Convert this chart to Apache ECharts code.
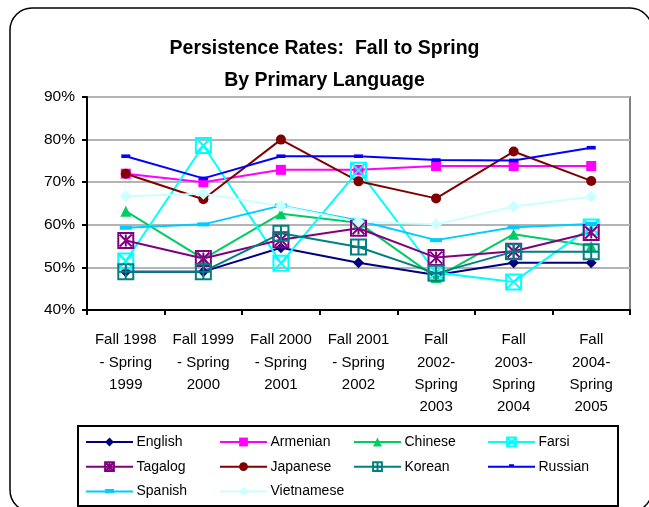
<!DOCTYPE html>
<html>
<head>
<meta charset="utf-8">
<title>Persistence Rates: Fall to Spring</title>
<script src="https://cdn.jsdelivr.net/npm/echarts@6/dist/echarts.min.js"></script>
</head>
<body style="margin:0;background:#fff;">
<div id="chart" style="width:649px;height:507px;"></div>
<script type="text/javascript">
// terms (x axis)
var terms = [
    'Fall 1998\n- Spring\n1999',
    'Fall 1999\n- Spring\n2000',
    'Fall 2000\n- Spring\n2001',
    'Fall 2001\n- Spring\n2002',
    'Fall\n2002-\nSpring\n2003',
    'Fall\n2003-\nSpring\n2004',
    'Fall\n2004-\nSpring\n2005'
];

// persistence rate in percent
var english    = [49, 49, 54.6, 51.1, 48.2, 51.1, 51.1];
var armenian   = [72, 70, 72.9, 72.9, 73.8, 73.8, 73.8];
var chinese    = [63.2, 52, 62.6, 60.5, 47.6, 57.8, 55];
var farsi      = [51.5, 78.6, 51, 72.8, 48.8, 46.6, 59.5];
var tagalog    = [56.3, 52.1, 56.5, 59.2, 52.3, 53.8, 58.2];
var japanese   = [72, 66, 80, 70.2, 66.2, 77.2, 70.3];
var korean     = [49, 49, 58, 54.8, 48.6, 53.7, 53.7];
var russian    = [76.1, 70.9, 76.1, 76.1, 75.2, 75.1, 78.1];
var spanish    = [59.3, 60.1, 64.5, 61, 56.4, 59.4, 60.2];
var vietnamese = [66.7, 67.3, 64.4, 60.7, 60.1, 64.3, 66.6];

var boxX = 'path://M0,0L10,0L10,10L0,10Z M0,0L10,10 M10,0L0,10';
var boxStar = 'path://M0,0L10,0L10,10L0,10Z M1,1L9,9 M9,1L1,9 M5,1L5,9';
var boxPlus = 'path://M0,0L10,0L10,10L0,10Z M5,0L5,10 M0,5L10,5';
var dashS = 'path://M0,0L10,0L10,4L0,4Z';
var dashL = 'path://M0,0L12,0L12,4L0,4Z';
// legend icons for the dash markers: line + dash, in a 47x11 box
var legRussian = 'path://M0,0 M47,11 M0,4.5L47,4.5L47,6.5L0,6.5Z M21,3L26,3L26,6.5L21,6.5Z';
var legSpanish = 'path://M0,0 M47,11 M0,4.5L47,4.5L47,6.5L0,6.5Z M19,3L28,3L28,7L19,7Z';

function mkSeries(name, data, color, symbol, size, hollow) {
    var s = {
        name: name,
        type: 'line',
        data: data,
        symbol: symbol,
        symbolSize: size,
        symbolKeepAspect: true,
        lineStyle: { color: color, width: 2 },
        itemStyle: { color: color },
        emphasis: { disabled: true }
    };
    if (hollow) {
        s.itemStyle = { color: 'rgba(0,0,0,0)', borderColor: color, borderWidth: 2 };
    }
    return s;
}

var series = [
    mkSeries('English', english, '#000080', 'diamond', 11),
    mkSeries('Armenian', armenian, '#ff00ff', 'rect', 10),
    mkSeries('Chinese', chinese, '#00cc66', 'triangle', 11),
    mkSeries('Farsi', farsi, '#00ffff', boxX, 15, true),
    mkSeries('Tagalog', tagalog, '#800080', boxStar, 15, true),
    mkSeries('Japanese', japanese, '#800000', 'circle', 10),
    mkSeries('Korean', korean, '#008080', boxPlus, 15, true),
    mkSeries('Russian', russian, '#0000ff', dashS, 9),
    mkSeries('Spanish', spanish, '#00ccff', dashL, 12),
    mkSeries('Vietnamese', vietnamese, '#ccffff', 'diamond', 12)
];

var legendCols = [
    ['English', 'Tagalog', { name: 'Spanish', icon: legSpanish }],
    ['Armenian', 'Japanese', 'Vietnamese'],
    ['Chinese', 'Korean'],
    ['Farsi', { name: 'Russian', icon: legRussian }]
];
var legends = legendCols.map(function (col, i) {
    return {
        data: col,
        orient: 'vertical',
        left: 85 + i * 134,
        top: 435,
        itemWidth: 47,
        itemHeight: 11,
        itemGap: 10.7,
        padding: 0,
        selectedMode: false,
        textStyle: { fontFamily: 'Liberation Sans, Arial', fontSize: 14, color: '#000', padding: [0, 0, 0, -1.5] }
    };
});

var chart = echarts.init(document.getElementById('chart'));
chart.setOption({
    animation: false,
    title: {
        text: 'Persistence Rates:  Fall to Spring\nBy Primary Language',
        left: 'center',
        top: 28,
        textStyle: { fontFamily: 'Liberation Sans, Arial', fontSize: 19.5, fontWeight: 'bold', color: '#000', lineHeight: 32 }
    },
    legend: legends,
    grid: {
        left: 87, right: 19, top: 97, bottom: 197,
        show: true, borderColor: '#808080', borderWidth: 2
    },
    xAxis: {
        type: 'category',
        data: terms,
        boundaryGap: true,
        axisLine: { lineStyle: { color: '#000', width: 2 } },
        axisTick: { show: true, inside: false, length: 5, lineStyle: { color: '#000', width: 2 } },
        axisLabel: {
            interval: 0, margin: 19, color: '#000', fontSize: 15, lineHeight: 22.3,
            fontFamily: 'Liberation Sans, Arial'
        },
        splitLine: { show: false }
    },
    yAxis: {
        type: 'value',
        min: 40, max: 90, interval: 10,
        axisLine: { show: true, lineStyle: { color: '#000', width: 2 } },
        axisTick: { show: true, length: 5, lineStyle: { color: '#000', width: 2 } },
        axisLabel: { formatter: '{value}%', margin: 12, color: '#000', fontSize: 15.5, fontFamily: 'Liberation Sans, Arial' },
        splitLine: { lineStyle: { color: '#b4b4b4', width: 2 } }
    },
    graphic: [
        {
            type: 'rect', silent: true,
            shape: { x: 10, y: 8, width: 642, height: 504, r: 22 },
            style: { fill: 'none', stroke: '#000', lineWidth: 1.5 }
        },
        {
            type: 'rect', silent: true,
            shape: { x: 78, y: 426, width: 540, height: 80 },
            style: { fill: 'none', stroke: '#000', lineWidth: 2 }
        }
    ],
    series: series
});
</script>
</body>
</html>
